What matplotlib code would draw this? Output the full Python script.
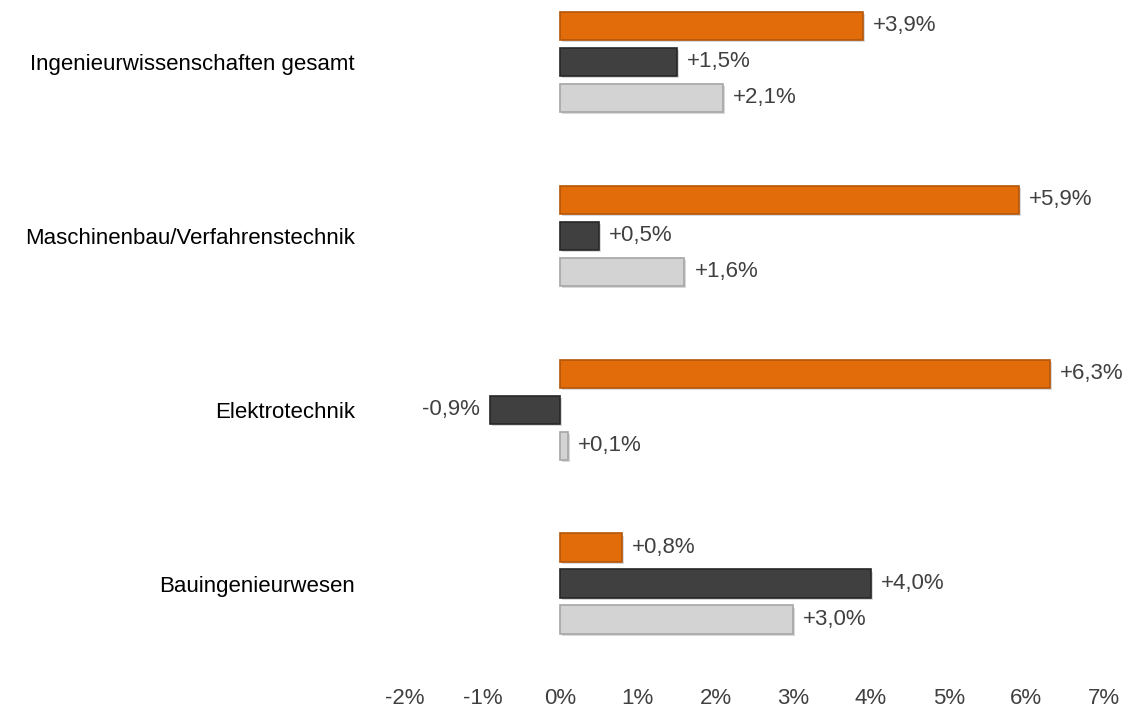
import matplotlib
matplotlib.use("Agg")
import matplotlib.pyplot as plt
import matplotlib.patheffects as pe
import numpy as np
from matplotlib import font_manager

# ── Data ────────────────────────────────────────────────────────────
categories = [
    "Ingenieurwissenschaften gesamt",
    "Maschinenbau/Verfahrenstechnik",
    "Elektrotechnik",
    "Bauingenieurwesen",
]
orange_vals = [3.9, 5.9, 6.3, 0.8]
dark_vals = [1.5, 0.5, -0.9, 4.0]
light_vals = [2.1, 1.6, 0.1, 3.0]
xticks = [-2, -1, 0, 1, 2, 3, 4, 5, 6, 7]

# ── Style ───────────────────────────────────────────────────────────
names = {f.name for f in font_manager.fontManager.ttflist}
family = "Liberation Sans Narrow" if "Liberation Sans Narrow" in names else "Liberation Sans"
plt.rcParams["font.family"] = [family, "DejaVu Sans"]
text_color = "#404040"

series = [
    (orange_vals, "#E36C0A", "#B4560A", -0.207),
    (dark_vals, "#404040", "#262626", 0.0),
    (light_vals, "#D3D3D3", "#A6A6A6", 0.207),
]

fig = plt.figure(figsize=(11.29, 7.15), dpi=100)
ax = fig.add_axes([0.324, 0.045, 0.678, 0.955])

y = np.arange(len(categories))
shadow = [pe.SimplePatchShadow(offset=(1.5, -1.5), shadow_rgbFace="#000000", alpha=0.15), pe.Normal()]

for vals, face, edge, off in series:
    bars = ax.barh(y + off, vals, height=0.165, color=face, edgecolor=edge, linewidth=1.2)
    for b in bars:
        b.set_path_effects(shadow)
    for yi, v in zip(y + off, vals):
        label = f"{v:+.1f}%".replace(".", ",")
        if v >= 0:
            ax.text(v + 0.13, yi, label, va="center", ha="left", fontsize=16, color=text_color)
        else:
            ax.text(v - 0.13, yi, label, va="center", ha="right", fontsize=16, color=text_color)

ax.set_xlim(-2.5, 7.35)
ax.set_ylim(3.569, -0.356)
ax.set_xticks(xticks)
ax.set_xticklabels([f"{t}%" for t in xticks], fontsize=16, color=text_color)
ax.set_yticks(y)
ax.set_yticklabels(categories, fontsize=16, color="#000000")
ax.tick_params(axis="both", length=0)
ax.tick_params(axis="y", pad=8)
ax.tick_params(axis="x", pad=4)
for s in ax.spines.values():
    s.set_visible(False)

fig.savefig("out.png", dpi=100)
